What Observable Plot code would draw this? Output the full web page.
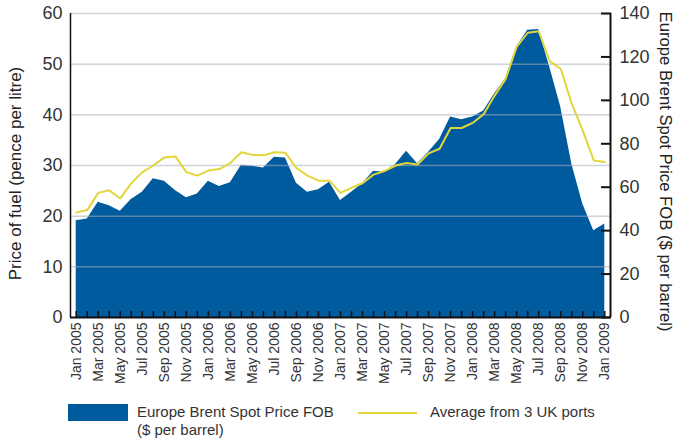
<!DOCTYPE html>
<html>
<head>
<meta charset="utf-8">
<script src="https://cdn.jsdelivr.net/npm/d3@7"></script>
<script src="https://cdn.jsdelivr.net/npm/@observablehq/plot@0.6"></script>
<style>
  body { margin: 0; background: #fff; font-family: "Liberation Sans", Arial, sans-serif; }
  #chart { position: absolute; left: 0; top: 0; }
  .lg { position: absolute; font-size: 15px; line-height: 18px; color: #333; }
</style>
</head>
<body>
<div id="chart"></div>
<div class="lg" style="left:68px;top:404px;width:60px;height:17px;background:#005a9e;"></div>
<div class="lg" style="left:137px;top:403px;">Europe Brent Spot Price FOB<br>($ per barrel)</div>
<div class="lg" style="left:358px;top:412px;width:59px;height:2px;background:#e2d53b;"></div>
<div class="lg" style="left:430px;top:403px;">Average from 3 UK ports</div>
<script>
const months = [
  "Jan 2005","Feb 2005","Mar 2005","Apr 2005","May 2005","Jun 2005","Jul 2005","Aug 2005","Sep 2005","Oct 2005","Nov 2005","Dec 2005",
  "Jan 2006","Feb 2006","Mar 2006","Apr 2006","May 2006","Jun 2006","Jul 2006","Aug 2006","Sep 2006","Oct 2006","Nov 2006","Dec 2006",
  "Jan 2007","Feb 2007","Mar 2007","Apr 2007","May 2007","Jun 2007","Jul 2007","Aug 2007","Sep 2007","Oct 2007","Nov 2007","Dec 2007",
  "Jan 2008","Feb 2008","Mar 2008","Apr 2008","May 2008","Jun 2008","Jul 2008","Aug 2008","Sep 2008","Oct 2008","Nov 2008","Dec 2008",
  "Jan 2009"
];
// Europe Brent Spot Price FOB ($ per barrel)
const brent = [
  44.6,45.4,53.1,51.5,48.9,54.3,57.7,63.9,62.8,58.5,55.1,56.9,
  62.8,60.3,62.0,70.1,69.7,68.8,73.8,73.5,61.8,57.7,58.8,62.3,
  53.9,57.7,61.6,67.4,66.9,70.5,76.6,70.8,76.1,82.0,92.3,91.1,
  92.3,95.1,103.1,110.0,124.6,132.3,132.6,115.4,96.9,70.8,52.3,40.0,
  43.1
];
// Average from 3 UK ports (pence per litre)
const fuel = [
  20.7,21.2,24.6,25.1,23.5,26.5,28.7,30.0,31.6,31.8,28.7,28.0,
  29.0,29.3,30.5,32.6,32.1,32.0,32.6,32.5,29.5,28.0,27.0,27.0,
  24.6,25.6,26.5,28.2,28.9,30.0,30.5,30.2,32.4,33.3,37.4,37.4,
  38.4,40.1,43.8,47.1,53.4,56.2,56.5,50.6,49.1,42.2,36.9,31.0,
  30.7
];
const leftTicks = [0, 10, 20, 30, 40, 50, 60];
const rightTicks = [0, 20, 40, 60, 80, 100, 120, 140];
const leftTitle = "Price of fuel (pence per litre)";
const rightTitle = "Europe Brent Spot Price FOB ($ per barrel)";

const ratio = 60 / 140;
const data = months.map((m, i) => ({ i, m, brent: brent[i], fuel: fuel[i] }));
const xDomain = [-0.52, months.length - 1 + 0.52];
const txt = "#333";

const chart = Plot.plot({
  width: 678,
  height: 395,
  marginLeft: 70,
  marginRight: 68,
  marginTop: 13,
  marginBottom: 78,
  style: { fontFamily: "'Liberation Sans', Arial, sans-serif", background: "white", color: txt },
  x: { domain: xDomain, axis: null },
  y: { domain: [0, 60], axis: null },
  marks: [
    Plot.areaY(data, { x: "i", y: d => d.brent * ratio, fill: "#005a9e" }),
    Plot.gridY(leftTicks.slice(1), { stroke: "#a8afbd", strokeOpacity: 0.55, strokeWidth: 1.5 }),
    Plot.lineY(data, { x: "i", y: "fuel", stroke: "#e2d53b", strokeWidth: 2 }),
    Plot.ruleY([0], { stroke: "#111", strokeWidth: 2 }),
    Plot.ruleX([xDomain[0]], { stroke: "#111", strokeWidth: 1.5 }),
    Plot.ruleX([xDomain[1]], { stroke: "#111", strokeWidth: 2 }),
    Plot.axisY(leftTicks, { anchor: "left", tickSize: 0, tickPadding: 8, fontSize: 18, label: null, fill: txt }),
    Plot.axisY(rightTicks.map(v => v * ratio), {
      anchor: "right", tickSize: -10, tickPadding: 19, strokeWidth: 2, stroke: "#111",
      tickFormat: d => Math.round(d / ratio), fontSize: 18, label: null, fill: txt
    }),
    Plot.axisX(data.map(d => d.i), { anchor: "bottom", tickSize: -6, tickFormat: () => "", label: null, stroke: "#111", strokeWidth: 1.5 }),
    Plot.axisX(data.filter((d, i) => i % 2 === 0).map(d => d.i), {
      anchor: "bottom", tickSize: 0, tickPadding: 5, tickRotate: -90,
      tickFormat: i => months[i], fontSize: 14, label: null, fill: txt
    }),
    Plot.text([leftTitle], { frameAnchor: "left", textAnchor: "middle", rotate: -90, dx: -55, dy: 8, fontSize: 17, fill: "#222" }),
    Plot.text([rightTitle], { frameAnchor: "right", textAnchor: "middle", rotate: 90, dx: 55, dy: 6, fontSize: 16.7, fill: "#222" })
  ]
});
document.getElementById("chart").appendChild(chart);
</script>
</body>
</html>
